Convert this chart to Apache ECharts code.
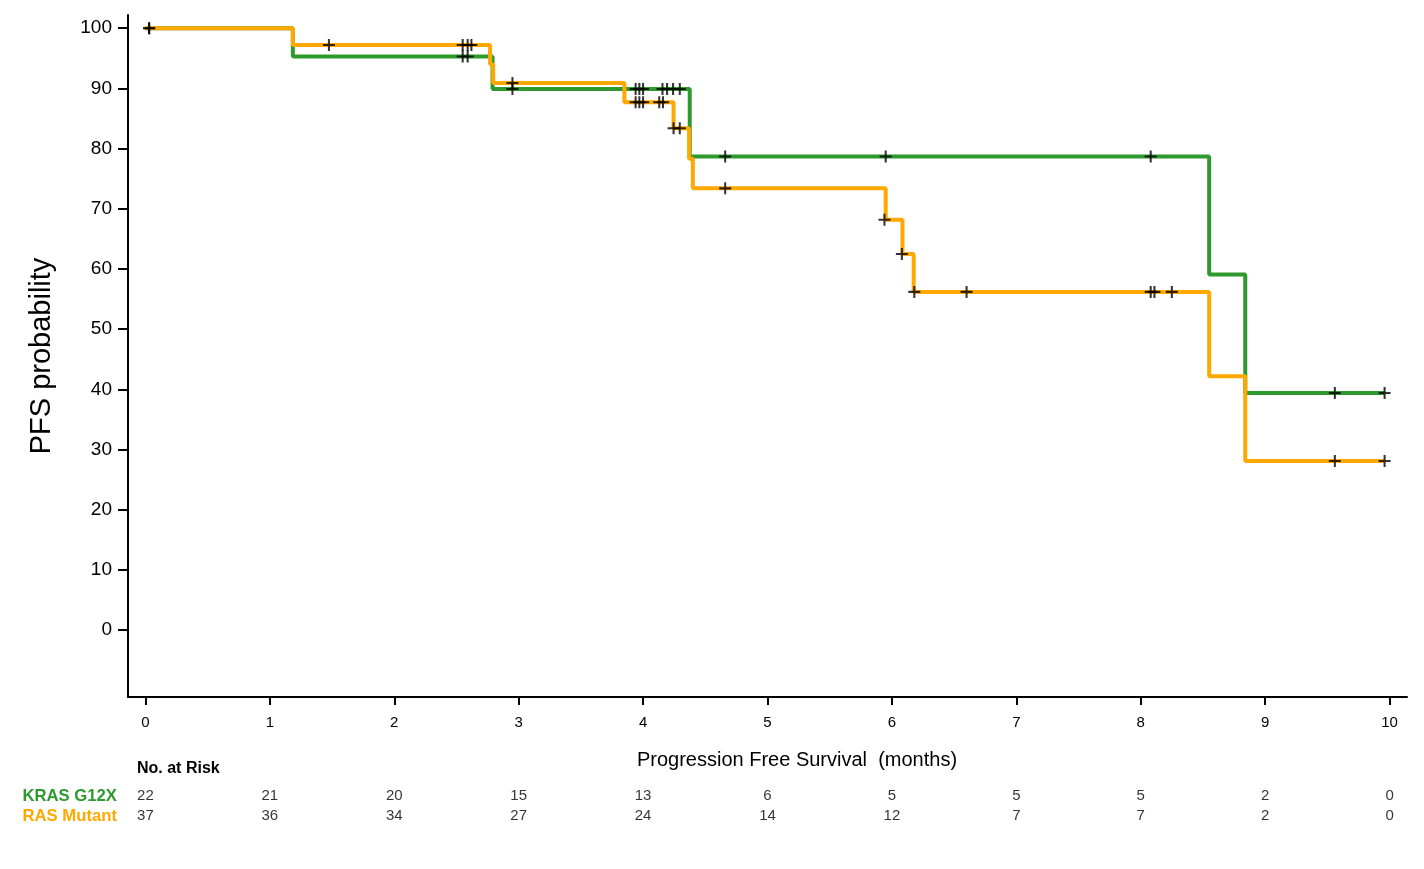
<!DOCTYPE html>
<html>
<head>
<meta charset="utf-8">
<script src="https://cdn.jsdelivr.net/npm/echarts@6/dist/echarts.min.js"></script>
<style>html,body{margin:0;padding:0;background:#fff;}#c{width:1424px;height:869px;}</style>
</head>
<body>
<div id="c"></div>
<script>
// ---- data ----
const xTicks = [0,1,2,3,4,5,6,7,8,9,10];
const yTicks = [0,10,20,30,40,50,60,70,80,90,100];

const greenName = 'KRAS G12X';
const greenTimes = [0, 1.185, 2.79, 4.375, 8.55, 8.84, 9.96];
const greenSurv  = [100, 95.3, 89.9, 78.7, 59.1, 39.4, 39.4];
const greenCensorT = [0.03, 2.55, 2.59, 2.95, 3.94, 3.97, 4.0, 4.156, 4.193, 4.241, 4.295, 4.66, 5.95, 8.08, 9.56, 9.96];
const greenCensorS = [100, 95.3, 95.3, 89.9, 89.9, 89.9, 89.9, 89.9, 89.9, 89.9, 89.9, 78.7, 78.7, 78.7, 39.4, 39.4];

const orangeName = 'RAS Mutant';
const orangeTimes = [0, 1.185, 2.77, 2.795, 3.85, 4.245, 4.37, 4.40, 5.95, 6.085, 6.175, 8.55, 8.84, 9.96];
const orangeSurv  = [100, 97.2, 94.0, 90.9, 87.7, 83.4, 78.3, 73.4, 68.2, 62.5, 56.2, 42.2, 28.1, 28.1];
const orangeCensorT = [0.03, 1.475, 2.55, 2.59, 2.62, 2.95, 3.94, 3.97, 4.0, 4.13, 4.16, 4.245, 4.295, 4.66, 5.94, 6.08, 6.18, 6.60, 8.08, 8.11, 8.25, 9.56, 9.96];
const orangeCensorS = [100, 97.2, 97.2, 97.2, 97.2, 90.9, 87.7, 87.7, 87.7, 87.7, 87.7, 83.4, 83.4, 73.4, 68.2, 62.5, 56.2, 56.2, 56.2, 56.2, 56.2, 28.1, 28.1];

const riskTimes = [0,1,2,3,4,5,6,7,8,9,10];
const riskGreen  = [22,21,20,15,13,6,5,5,5,2,0];
const riskOrange = [37,36,34,27,24,14,12,7,7,2,0];

// ---- styling ----
const GREEN = '#2e9a2e';
const ORANGE = '#ffa800';
const FONT = "'Liberation Sans', Arial, sans-serif";
const CROSS = 'path://M-0.17,-1 L0.17,-1 L0.17,-0.17 L1,-0.17 L1,0.17 L0.17,0.17 L0.17,1 L-0.17,1 L-0.17,0.17 L-1,0.17 L-1,-0.17 L-0.17,-0.17 Z';

const zip = (a, b) => a.map((v, i) => [v, b[i]]);
const riskData = [];
riskTimes.forEach((t, i) => {
  riskData.push([t, greenName, riskGreen[i]]);
  riskData.push([t, orangeName, riskOrange[i]]);
});

const chart = echarts.init(document.getElementById('c'), null, {renderer: 'canvas'});
chart.setOption({
  animation: false,
  backgroundColor: '#fff',
  textStyle: {fontFamily: FONT},
  grid: [
    {left: 128, right: 17, top: 15, bottom: 172},
    {left: 128, right: 17, top: 786, height: 40}
  ],
  xAxis: [
    {
      type: 'value', gridIndex: 0, min: -0.14, max: 10.14,
      axisLine: {show: true, onZero: false, lineStyle: {color: '#000', width: 2}},
      axisTick: {show: true, length: 8, lineStyle: {color: '#000', width: 2}, customValues: xTicks},
      axisLabel: {show: true, customValues: xTicks, color: '#000', fontSize: 15, margin: 18, fontFamily: FONT},
      splitLine: {show: false}
    },
    {
      type: 'value', gridIndex: 1, min: -0.14, max: 10.14, show: false
    }
  ],
  yAxis: [
    {
      type: 'value', gridIndex: 0, min: -11.1, max: 102.2,
      name: 'PFS probability', nameLocation: 'middle', nameRotate: 90, nameGap: 72,
      nameTextStyle: {color: '#000', fontSize: 29, fontFamily: FONT},
      axisLine: {show: true, onZero: false, lineStyle: {color: '#000', width: 2}},
      axisTick: {show: true, length: 10, lineStyle: {color: '#000', width: 2}, customValues: yTicks},
      axisLabel: {show: true, customValues: yTicks, color: '#000', fontSize: 19, margin: 16, fontFamily: FONT},
      splitLine: {show: false}
    },
    {
      type: 'category', gridIndex: 1, inverse: true, data: [greenName, orangeName],
      axisLine: {show: false}, axisTick: {show: false}, splitLine: {show: false},
      axisLabel: {
        margin: 11,
        formatter: (v, i) => (i === 0 ? '{g|' + v + '}' : '{o|' + v + '}'),
        rich: {
          g: {color: GREEN, fontWeight: 'bold', fontSize: 16.7, fontFamily: FONT},
          o: {color: ORANGE, fontWeight: 'bold', fontSize: 16.7, fontFamily: FONT}
        }
      }
    }
  ],
  graphic: [
    {type: 'text', left: 137, top: 761, style: {text: 'No. at Risk', fill: '#000', font: "bold 16px " + FONT}},
    {type: 'text', x: 797, y: 760, style: {text: 'Progression Free Survival  (months)', fill: '#000', font: "20px " + FONT, textAlign: 'center', textVerticalAlign: 'middle'}}
  ],
  series: [
    {
      name: greenName, type: 'line', step: 'end', xAxisIndex: 0, yAxisIndex: 0,
      data: zip(greenTimes, greenSurv), showSymbol: false, symbol: 'none',
      lineStyle: {color: GREEN, width: 4}, z: 2
    },
    {
      name: orangeName, type: 'line', step: 'end', xAxisIndex: 0, yAxisIndex: 0,
      data: zip(orangeTimes, orangeSurv), showSymbol: false, symbol: 'none',
      lineStyle: {color: ORANGE, width: 4}, z: 3
    },
    {
      type: 'scatter', xAxisIndex: 0, yAxisIndex: 0, data: zip(greenCensorT, greenCensorS),
      symbol: CROSS, symbolSize: 12, itemStyle: {color: '#000'}, z: 5
    },
    {
      type: 'scatter', xAxisIndex: 0, yAxisIndex: 0, data: zip(orangeCensorT, orangeCensorS),
      symbol: CROSS, symbolSize: 12, itemStyle: {color: '#000'}, z: 5
    },
    {
      type: 'scatter', xAxisIndex: 1, yAxisIndex: 1, data: riskData,
      symbolSize: 1, itemStyle: {color: 'rgba(0,0,0,0)'},
      label: {show: true, position: 'inside', color: '#000', fontSize: 15, fontFamily: FONT,
        formatter: p => String(p.value[2])},
      silent: true
    }
  ]
});
</script>
</body>
</html>
